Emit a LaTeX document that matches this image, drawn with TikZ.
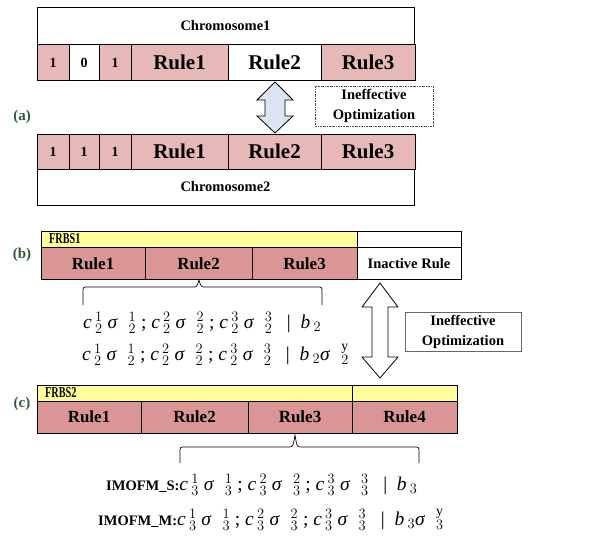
\documentclass[tikz,border=0pt]{standalone}
\usepackage{fontspec}
\setmainfont{Liberation Serif}
\usepackage{graphicx}
\definecolor{pinkA}{HTML}{E6B9B8}
\definecolor{pinkB}{HTML}{D99694}
\definecolor{yel}{HTML}{FFFF99}
\definecolor{arrowblue}{HTML}{DCE6F2}
\definecolor{lblgreen}{HTML}{2E5C3A}
\newcommand{\fsz}[1]{\fontsize{#1}{#1}\selectfont}
\newcommand{\cv}[2]{\textit{c}\,$^{#1}_{#2}$}
\newcommand{\sv}[2]{\textit{σ}\;\;$^{#1}_{#2}$}
\tikzset{
  cell/.style={draw=black, line width=0.8pt, inner sep=0pt, outer sep=0pt, font=\bfseries},
  digitcell/.style={cell, font=\bfseries\fsz{14}},
  rulea/.style={cell, font=\bfseries\fsz{21}},
  ruleb/.style={cell, fill=pinkB, font=\bfseries\fsz{17}},
  chrom/.style={cell, fill=white, font=\bfseries\fsz{14.5}},
  bar/.style={draw=black, line width=0.8pt, inner sep=0pt, outer sep=0pt, fill=yel},
  ineff/.style={inner sep=0pt, align=center, font=\bfseries\fontsize{14.5}{20}\selectfont},
  lbl/.style={font=\bfseries\fsz{15}, text=lblgreen},
  formula/.style={inner sep=0pt, anchor=west, font=\fsz{19.5}},
  brc/.style={draw=black, line width=0.7pt},
}
\begin{document}
\begin{tikzpicture}[x=1pt,y=-1pt]
\useasboundingbox (0,0) rectangle (606,536);
% ---------------- (a)
\node[chrom, minimum width=377pt, minimum height=37pt] (ch1) at (225.5,25.75) {Chromosome1};
\node[digitcell, fill=pinkA, minimum width=32pt, minimum height=36pt] (a11) at (53,62.5) {1};
\node[digitcell, fill=white, minimum width=30pt, minimum height=36pt] (a12) at (84,62.5) {0};
\node[digitcell, fill=pinkA, minimum width=32pt, minimum height=36pt] (a13) at (115,62.5) {1};
\node[rulea, fill=pinkA, minimum width=97pt, minimum height=36pt] (a14) at (179.5,62.5) {Rule1};
\node[rulea, fill=white, minimum width=93pt, minimum height=36pt] (a15) at (274.5,62.5) {Rule2};
\node[rulea, fill=pinkA, minimum width=94pt, minimum height=36pt] (a16) at (368,62.5) {Rule3};

\node[digitcell, fill=pinkA, minimum width=32pt, minimum height=35pt] (a21) at (53,151.5) {1};
\node[digitcell, fill=pinkA, minimum width=30pt, minimum height=35pt] (a22) at (84,151.5) {1};
\node[digitcell, fill=pinkA, minimum width=32pt, minimum height=35pt] (a23) at (115,151.5) {1};
\node[rulea, fill=pinkA, minimum width=97pt, minimum height=35pt] (a24) at (179.5,151.5) {Rule1};
\node[rulea, fill=pinkA, minimum width=93pt, minimum height=35pt] (a25) at (274.5,151.5) {Rule2};
\node[rulea, fill=pinkA, minimum width=94pt, minimum height=35pt] (a26) at (368,151.5) {Rule3};
\node[chrom, minimum width=377pt, minimum height=36pt] (ch2) at (225.5,187) {Chromosome2};

\draw[line width=0.8pt, fill=arrowblue] (275,82) -- (293,100) -- (285,100) -- (285,116) -- (293,116) -- (275,133) -- (257,116) -- (265,116) -- (265,100) -- (257,100) -- cycle;
\node[ineff, draw=black!70, line width=0.6pt, dash pattern=on 2pt off 1pt on 0.6pt off 1pt, minimum width=118pt, minimum height=40pt] (io1) at (374,106) {Ineffective\\Optimization};
\node[lbl] (la) at (22,117) {(a)};

% ---------------- (b)
\node[bar, minimum width=316pt, minimum height=16pt] (frbs1) at (199,239) {};
\node[draw=black, line width=0.8pt, inner sep=0pt, outer sep=0pt, fill=white, minimum width=104pt, minimum height=16pt] (frbs1x) at (409,239) {};
\node[anchor=west, inner sep=0pt, font=\bfseries\fsz{15}] (t1) at (49,239) {\scalebox{0.68}[1]{FRBS1}};
\node[ruleb, minimum width=104pt, minimum height=32.5pt] (b1) at (93,263.25) {Rule1};
\node[ruleb, minimum width=107pt, minimum height=32.5pt] (b2) at (198.5,263.25) {Rule2};
\node[ruleb, minimum width=105pt, minimum height=32.5pt] (b3) at (304.5,263.25) {Rule3};
\node[cell, fill=white, font=\bfseries\fsz{14.5}, minimum width=104pt, minimum height=32.5pt] (b4) at (409,263.25) {Inactive Rule};
\node[lbl] (lb) at (22,255) {(b)};

\coordinate (bt) at (199,280);
\draw[brc] (83,305) -- (83,292) .. controls (83,287) .. (88,287) -- (192,287) .. controls (197,287) .. (bt) .. controls (201,287) .. (206,287) -- (317,287) .. controls (322,287) .. (322,292) -- (322,305);
\node[formula] (f1) at (83,323) {\cv12 \sv12 ; \cv22 \sv22 ; \cv32 \sv32 \ \ | \ \textit{b}\,$_{2}$};
\node[formula] (f2) at (82,355) {\cv12 \sv12 ; \cv22 \sv22 ; \cv32 \sv32 \ \ | \ \textit{b}\,$_{2}$\textit{σ}\;\;$^{\mathrm{y}}_{2}$};

\draw[line width=0.8pt, fill=white] (380,283) -- (398,307) -- (388,307) -- (388,357) -- (398,357) -- (380,378) -- (362,357) -- (372,357) -- (372,307) -- (362,307) -- cycle;
\node[ineff, draw=black!60, line width=0.8pt, minimum width=116pt, minimum height=39pt] (io2) at (463,331.5) {Ineffective\\Optimization};

% ---------------- (c)
\node[bar, minimum width=315pt, minimum height=16pt] (frbs2) at (194.5,393) {};
\node[bar, minimum width=105pt, minimum height=16pt] (frbs2x) at (404.5,393) {};
\node[anchor=west, inner sep=0pt, font=\bfseries\fsz{15}] (t2) at (45,393) {\scalebox{0.68}[1]{FRBS2}};
\node[ruleb, minimum width=104pt, minimum height=32pt] (c1) at (89,417) {Rule1};
\node[ruleb, minimum width=107pt, minimum height=32pt] (c2) at (194.5,417) {Rule2};
\node[ruleb, minimum width=104pt, minimum height=32pt] (c3) at (300,417) {Rule3};
\node[ruleb, minimum width=105pt, minimum height=32pt] (c4) at (404.5,417) {Rule4};
\node[lbl] (lc) at (22,404) {(c)};

\coordinate (ct) at (295,435);
\draw[brc] (180,463) -- (180,452) .. controls (180,447) .. (185,447) -- (288,447) .. controls (293,447) .. (ct) .. controls (297,447) .. (302,447) -- (414,447) .. controls (419,447) .. (419,452) -- (419,463);
\node[formula] (f3) at (106,485) {{\bfseries\fsz{14.5}IMOFM\_S:}\cv13 \sv13 ; \cv23 \sv23 ; \cv33 \sv33 \ \ | \ \textit{b}\,$_{3}$};
\node[formula] (f4) at (98,520) {{\bfseries\fsz{14.5}IMOFM\_M:}\cv13 \sv13 ; \cv23 \sv23 ; \cv33 \sv33 \ \ | \ \textit{b}\,$_{3}$\textit{σ}\;\;$^{\mathrm{y}}_{3}$};
\end{tikzpicture}
\end{document}
